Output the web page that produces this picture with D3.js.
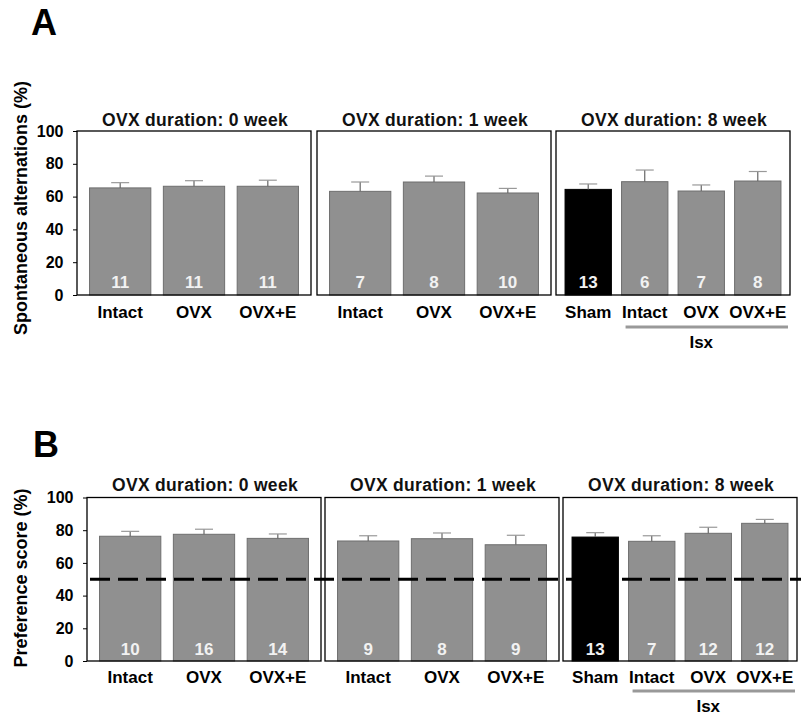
<!DOCTYPE html>
<html>
<head>
<meta charset="utf-8">
<script src="https://cdn.jsdelivr.net/npm/d3@7"></script>
<style>
  html, body { margin: 0; padding: 0; background: #fff; }
  svg { display: block; font-family: Arial, "Liberation Sans", sans-serif; }
</style>
</head>
<body>
<div id="chart"></div>
<script>
// ── data ─────────────────────────────────────────────────
const panelTitles = ['OVX duration: 0 week', 'OVX duration: 1 week', 'OVX duration: 8 week'];
const groupCats   = [['Intact', 'OVX', 'OVX+E'], ['Intact', 'OVX', 'OVX+E'], ['Sham', 'Intact', 'OVX', 'OVX+E']];
const shamCat     = 'Sham';
const isxCats     = ['Intact', 'OVX', 'OVX+E'];
const isxLabel    = 'Isx';
const yTicks      = [0, 20, 40, 60, 80, 100];
const chanceLevel = 50;

// A: spontaneous alternations
const altMean = [[65.3, 66.3, 66.3], [63.2, 68.9, 62.2], [64.4, 69.1, 63.4, 69.5]];
const altSem  = [[3.2, 3.4, 3.7], [5.7, 3.6, 2.8], [3.3, 7.1, 3.7, 5.8]];
const altN    = [[11, 11, 11], [7, 8, 10], [13, 6, 7, 8]];

// B: preference score
const prefMean = [[76.3, 77.5, 75.0], [73.4, 74.8, 71.1], [75.8, 73.2, 78.1, 84.2]];
const prefSem  = [[3.0, 3.1, 2.7], [3.2, 3.5, 5.8], [2.7, 3.4, 3.7, 2.4]];
const prefN    = [[10, 16, 14], [9, 8, 9], [13, 7, 12, 12]];

const W = 801, H = 715;
const svg = d3.select('#chart').append('svg')
  .attr('width', W).attr('height', H);

// ── one figure row (A or B) ──────────────────────────────
function drawRow(cfg) {
  const y = d3.scaleLinear().domain([0, 100]).range([cfg.bottom, cfg.top]);
  const g = svg.append('g');

  // panel letter
  g.append('text')
    .attr('x', cfg.letterX).attr('y', cfg.letterY)
    .attr('font-size', 36).attr('font-weight', 'bold')
    .text(cfg.letter);

  // y axis label
  g.append('text')
    .attr('transform', `translate(${cfg.yLabelX},${cfg.yLabelY}) rotate(-90)`)
    .attr('text-anchor', 'middle')
    .attr('font-size', 18).attr('font-weight', 'bold')
    .text(cfg.yLabel);

  // y axis on the first box
  const axis = g.append('g')
    .attr('transform', `translate(${cfg.boxX[0]},0)`)
    .call(d3.axisLeft(y).tickValues(yTicks).tickSize(4).tickPadding(9.5));
  axis.select('.domain').remove();
  axis.selectAll('line').attr('stroke', '#000');
  axis.selectAll('text')
    .attr('font-size', 16).attr('font-weight', 'bold')
    .attr('font-family', 'Arial, "Liberation Sans", sans-serif')
    .attr('fill', '#000');

  panelTitles.forEach((title, i) => {
    const cats = groupCats[i];
    const bx = cfg.boxX[i], bw = cfg.boxW;
    const x = d3.scaleBand().domain(cats)
      .range([bx, bx + bw])
      .paddingInner(cats.length > 3 ? 0.18 : 0.17)
      .paddingOuter(cats.length > 3 ? 0.16 : 0.17);

    const rows = cats.map((c, j) => ({
      cat: c, mean: cfg.mean[i][j], sem: cfg.sem[i][j], n: cfg.n[i][j]
    }));

    // title
    g.append('text')
      .attr('x', bx + bw / 2 + 1).attr('y', cfg.titleY)
      .attr('text-anchor', 'middle')
      .attr('font-size', 17.5).attr('font-weight', 'bold')
      .attr('letter-spacing', 0.3)
      .attr('fill', '#111')
      .text(title);

    // bars
    g.selectAll(null).data(rows).enter().append('rect')
      .attr('x', d => x(d.cat))
      .attr('y', d => y(d.mean))
      .attr('width', x.bandwidth())
      .attr('height', d => y(0) - y(d.mean))
      .attr('fill', d => d.cat === shamCat ? '#000' : '#909090')
      .attr('stroke', d => d.cat === shamCat ? '#000' : '#6e6e6e')
      .attr('stroke-width', 1);

    // error bars (upper only)
    g.selectAll(null).data(rows).enter().append('line')
      .attr('x1', d => x(d.cat) + x.bandwidth() / 2)
      .attr('x2', d => x(d.cat) + x.bandwidth() / 2)
      .attr('y1', d => y(d.mean)).attr('y2', d => y(d.mean + d.sem))
      .attr('stroke', '#666').attr('stroke-width', 1.2);
    g.selectAll(null).data(rows).enter().append('line')
      .attr('x1', d => x(d.cat) + x.bandwidth() / 2 - 9)
      .attr('x2', d => x(d.cat) + x.bandwidth() / 2 + 9)
      .attr('y1', d => y(d.mean + d.sem)).attr('y2', d => y(d.mean + d.sem))
      .attr('stroke', '#999').attr('stroke-width', 1.2);

    // n inside bars
    g.selectAll(null).data(rows).enter().append('text')
      .attr('x', d => x(d.cat) + x.bandwidth() / 2)
      .attr('y', cfg.nY)
      .attr('text-anchor', 'middle')
      .attr('font-size', 17).attr('font-weight', 'bold')
      .attr('fill', '#f2f2f2')
      .text(d => d.n);

    // category labels
    g.selectAll(null).data(rows).enter().append('text')
      .attr('x', d => x(d.cat) + x.bandwidth() / 2)
      .attr('y', cfg.catY)
      .attr('text-anchor', 'middle')
      .attr('font-size', 17).attr('font-weight', 'bold')
      .text(d => d.cat);

    // frame
    g.append('rect')
      .attr('x', bx).attr('y', y(100))
      .attr('width', bw).attr('height', y(0) - y(100))
      .attr('fill', 'none').attr('stroke', '#000').attr('stroke-width', 1.3);

    // Isx bracket under the lesion groups
    if (cats.includes(shamCat)) {
      const x0 = x(isxCats[0]) + 4;
      const x1 = bx + bw - 2;
      g.append('line')
        .attr('x1', x0).attr('x2', x1)
        .attr('y1', cfg.isxLineY).attr('y2', cfg.isxLineY)
        .attr('stroke', '#999').attr('stroke-width', 3);
      g.append('text')
        .attr('x', x(isxCats[1]) + x.bandwidth() / 2).attr('y', cfg.isxTextY)
        .attr('text-anchor', 'middle')
        .attr('font-size', 17).attr('font-weight', 'bold')
        .text(isxLabel);
    }
  });

  // chance line
  if (cfg.chance) {
    g.append('line')
      .attr('x1', cfg.boxX[0] + 3).attr('x2', W)
      .attr('y1', y(chanceLevel)).attr('y2', y(chanceLevel))
      .attr('stroke', '#000').attr('stroke-width', 3)
      .attr('stroke-dasharray', '20,8');
  }
}

drawRow({
  letter: 'A', letterX: 31, letterY: 35,
  yLabel: 'Spontaneous alternations (%)', yLabelX: 27, yLabelY: 208,
  top: 131, bottom: 295, boxX: [77, 317, 556], boxW: 234,
  titleY: 126, nY: 288, catY: 318, isxLineY: 327, isxTextY: 348,
  mean: altMean, sem: altSem, n: altN, chance: false
});

drawRow({
  letter: 'B', letterX: 33, letterY: 457,
  yLabel: 'Preference score (%)', yLabelX: 27, yLabelY: 578,
  top: 497.5, bottom: 661, boxX: [87, 325, 563], boxW: 234,
  titleY: 491, nY: 655, catY: 683, isxLineY: 691, isxTextY: 712,
  mean: prefMean, sem: prefSem, n: prefN, chance: true
});
</script>
</body>
</html>
